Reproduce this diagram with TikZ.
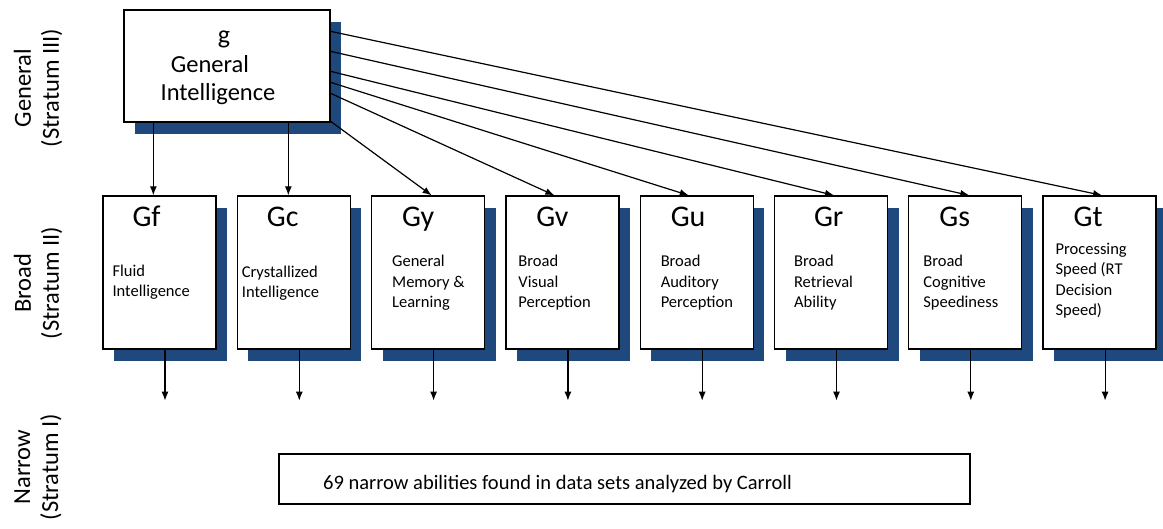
\documentclass[tikz,border=0pt]{standalone}
\usepackage{fontspec}
\setmainfont{Carlito}
\usetikzlibrary{arrows.meta,shadows}
\definecolor{white}{RGB}{255,255,255}
\definecolor{black}{RGB}{0,0,0}
\definecolor{shadow_blue}{RGB}{31,73,125}

\tikzset{
	box/.style={rectangle,draw=black,fill=white,line width=1.3pt,inner sep=0pt,
		drop shadow={shadow xshift=11pt,shadow yshift=-12pt,fill=shadow_blue,opacity=1}},
	broadbox/.style={box,minimum width=113pt,minimum height=153pt},
	title/.style={inner sep=0pt,font=\fontsize{30}{32}\selectfont},
	desc/.style={inner sep=0pt,align=left,font=\fontsize{16.5}{20.3}\selectfont},
	stratum/.style={rotate=90,align=center,inner sep=0pt,font=\fontsize{24.5}{28}\selectfont},
	arr/.style={black,line width=1.2pt,-{Latex[length=9pt,width=7pt]}}
}

\begin{document}
\begin{tikzpicture}[x=1pt,y=-1pt]
	\useasboundingbox (0,0) rectangle (1163,528);

	% stratum labels
	\node[stratum] (lab-g) at (38,88) {General\\(Stratum III)};
	\node[stratum] (lab-b) at (38,283) {Broad\\(Stratum II)};
	\node[stratum] (lab-n) at (38,467) {Narrow\\(Stratum I)};

	% general intelligence
	\node[box,minimum width=206pt,minimum height=112pt] (g) at (227,66) {};
	\node[inner sep=0pt,font=\fontsize{26}{28}\selectfont,anchor=base] (g-1) at (224,43) {g};
	\node[inner sep=0pt,font=\fontsize{24.5}{28}\selectfont,anchor=base] (g-2) at (210,72) {General};
	\node[inner sep=0pt,font=\fontsize{24.5}{28}\selectfont,anchor=base] (g-3) at (218,100) {Intelligence};

	% broad abilities
	\foreach \n/\t/\d/\tx/\dx/\dy [count=\i from 0] in {
		gf/Gf/{Fluid\\Intelligence}/30/10/101,
		gc/Gc/{Crystallized\\Intelligence}/30/5/102,
		gy/Gy/{General\\Memory \&\\Learning}/31/21/112,
		gv/Gv/{Broad\\Visual\\Perception}/31/13/112,
		gu/Gu/{Broad\\Auditory\\Perception}/31/21/112,
		gr/Gr/{Broad\\Retrieval\\Ability}/40/20/112,
		gs/Gs/{Broad\\Cognitive\\Speediness}/31/15/112,
		gt/Gt/{Processing\\Speed (RT\\Decision\\Speed)}/31/13/120}
	{
		\node[broadbox] (\n) at (159.5+134.3*\i,272.5) {};
		\node[title,anchor=base west] (\n-t) at ([shift={(\tx,31)}]\n.north west) {\t};
		\node[desc,anchor=base west] (\n-d) at ([shift={(\dx,\dy)}]\n.north west) {\d};
		\coordinate (\n-o) at ([shift={(5.5,51)}]\n.south);
		\draw[arr] ([xshift=5.5]\n.south) -- (\n-o);
	}

	% g to broad
	\draw[arr] ([xshift=30]g.south west) -- ([xshift=30]g.south west |- gf.north);
	\draw[arr] ([xshift=165]g.south west) -- ([xshift=165]g.south west |- gc.north);
	\foreach \n/\s/\o in {gy/112/3.5,gv/84/-8,gu/73/-8,gr/62/3,gs/42/4,gt/22/2.5}
		\draw[arr] ([yshift=-\s]g.north east) -- ([xshift=\o]\n.north);

	% narrow abilities
	\node[rectangle,draw=black,line width=1.3pt,minimum width=691pt,minimum height=50pt] (narrow) at (624.5,479) {};
	\node[inner sep=0pt,font=\fontsize{20.5}{22}\selectfont,anchor=base west] (narrow-t) at (323,489)
		{69 narrow abilities found in data sets analyzed by Carroll};
\end{tikzpicture}
\end{document}
